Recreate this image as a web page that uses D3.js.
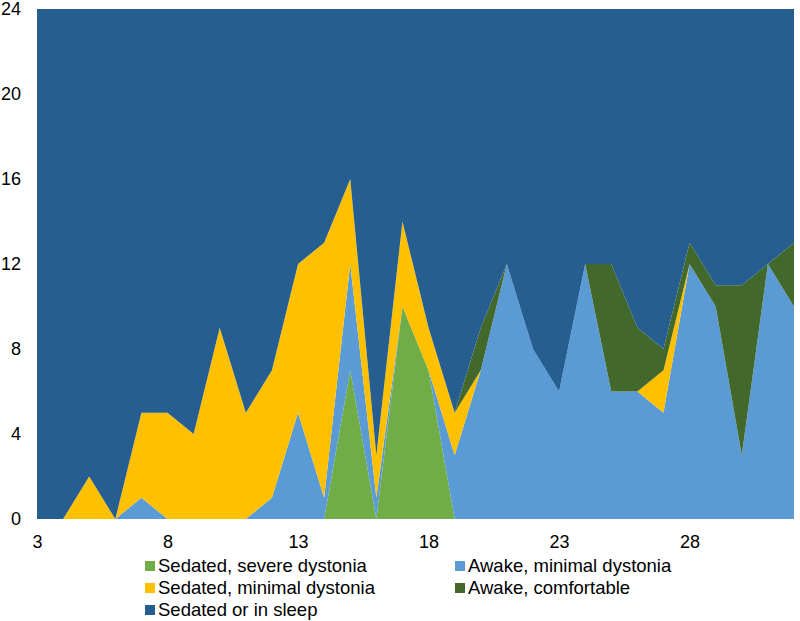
<!DOCTYPE html>
<html>
<head>
<meta charset="utf-8">
<script src="https://cdn.jsdelivr.net/npm/d3@7"></script>
<style>
  body { margin: 0; background: #fff; }
  text { font-family: Arial, "Liberation Sans", sans-serif; fill: #000; }
</style>
</head>
<body>
<script>
// days on the x axis
var days = [3,4,5,6,7,8,9,10,11,12,13,14,15,16,17,18,19,20,21,22,23,24,25,26,27,28,29,30,31,32];

// hours per day in each state (stack order, bottom to top)
var sedatedSevere  = [0,0,0,0,0,0,0,0,0,0,0,0,7,0,10,7,0,0,0,0,0,0,0,0,0,0,0,0,0,0];
var awakeMinimal   = [0,0,0,0,1,0,0,0,0,1,5,1,5,1,0,0,3,7,12,8,6,12,6,6,5,12,10,3,12,10];
var sedatedMinimal = [0,0,2,0,4,5,4,9,5,6,7,12,4,2,4,2,2,0,0,0,0,0,0,0,2,0,0,0,0,0];
var awakeComfort   = [0,0,0,0,0,0,0,0,0,0,0,0,0,0,0,0,0,2,0,0,0,0,6,3,1,1,1,8,0,3];
var sedatedSleep   = [24,24,22,24,19,19,20,15,19,17,12,11,8,21,10,15,19,15,12,16,18,12,12,15,16,11,13,13,12,11];

var yTicks = [0,4,8,12,16,20,24];
var xTicks = [3,8,13,18,23,28];

var series = [
  { key: 'severe',  name: 'Sedated, severe dystonia',  color: '#70ad47', values: sedatedSevere },
  { key: 'awakeMin', name: 'Awake, minimal dystonia',  color: '#5b9bd5', values: awakeMinimal },
  { key: 'sedMin',  name: 'Sedated, minimal dystonia', color: '#ffc000', values: sedatedMinimal },
  { key: 'comfort', name: 'Awake, comfortable',        color: '#43682b', values: awakeComfort },
  { key: 'sleep',   name: 'Sedated or in sleep',       color: '#255e8f', values: sedatedSleep }
];

var table = days.map(function (d, i) {
  var row = { day: d };
  series.forEach(function (s) { row[s.key] = s.values[i]; });
  return row;
});

var svgWidth = 800;
var svgHeight = 621;
var margin = { left: 37, right: 6, top: 9, bottom: 102 };

var svg = d3.select('body')
  .append('svg')
  .attr('width', svgWidth)
  .attr('height', svgHeight);

var x = d3.scaleLinear()
  .domain([3, 32])
  .range([margin.left, svgWidth - margin.right]);

var y = d3.scaleLinear()
  .domain([0, 24])
  .range([svgHeight - margin.bottom, margin.top]);

var stack = d3.stack().keys(series.map(function (s) { return s.key; }));
var layers = stack(table);

var area = d3.area()
  .x(function (d) { return x(d.data.day); })
  .y0(function (d) { return y(d[0]); })
  .y1(function (d) { return y(d[1]); });

svg.append('g')
  .selectAll('path')
  .data(layers)
  .enter()
  .append('path')
    .attr('d', area)
    .attr('fill', function (d, i) { return series[i].color; });

var yAxis = svg.append('g')
  .attr('transform', 'translate(' + margin.left + ',0)')
  .call(d3.axisLeft(y).tickValues(yTicks).tickSize(0).tickPadding(16));
yAxis.select('.domain').remove();
yAxis.selectAll('text').style('font-size', '18px').style('font-family', 'Arial, "Liberation Sans", sans-serif');

var xAxis = svg.append('g')
  .attr('transform', 'translate(0,' + y(0) + ')')
  .call(d3.axisBottom(x).tickValues(xTicks).tickSize(0).tickPadding(16));
xAxis.select('.domain').remove();
xAxis.selectAll('text').style('font-size', '18px').style('font-family', 'Arial, "Liberation Sans", sans-serif');

// legend, two columns
var legend = svg.append('g');
var colX = [145, 455];
var rowY = [572, 594, 616];

var items = legend.selectAll('g')
  .data(series)
  .enter()
  .append('g')
    .attr('transform', function (d, i) {
      return 'translate(' + colX[i % 2] + ',' + rowY[Math.floor(i / 2)] + ')';
    });

items.append('rect')
  .attr('x', 0)
  .attr('y', -11)
  .attr('width', 10)
  .attr('height', 10)
  .attr('fill', function (d) { return d.color; });

items.append('text')
  .attr('x', 13)
  .attr('y', 0)
  .style('font-size', '18.5px')
  .text(function (d) { return d.name; });
</script>
</body>
</html>
